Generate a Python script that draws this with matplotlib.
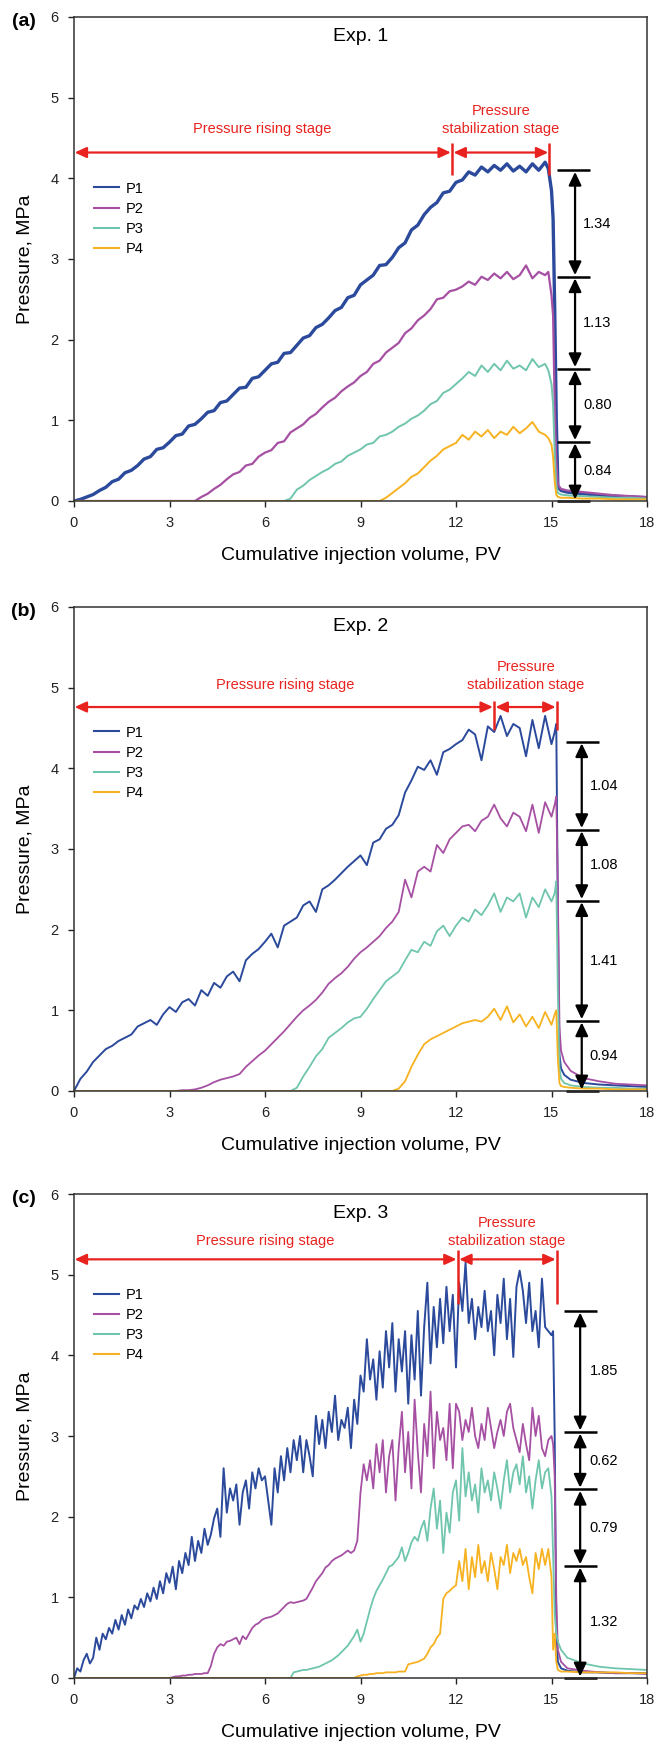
import matplotlib
matplotlib.use('Agg')
import matplotlib.pyplot as plt

plt.rcParams['font.family'] = ['Liberation Sans', 'DejaVu Sans']

BLUE = '#2b4a9c'
MAGENTA = '#a650a3'
TEAL = '#6fc5ad'
ORANGE = '#f6b220'
RED = '#e8231f'

names = ['P1', 'P2', 'P3', 'P4']
colors = [BLUE, MAGENTA, TEAL, ORANGE]

# ---- Exp. 1 : values read every 0.2 PV, then the drop and the tail
a_x = [i / 5 for i in range(75)] + [14.9, 15.0, 15.05, 15.1, 15.15, 15.2, 15.3,
                                     15.5, 16.0, 16.5, 17.0, 17.5, 18.0]
a_p1 = [0.00, 0.02, 0.05, 0.08, 0.13, 0.17, 0.24, 0.27, 0.35, 0.38,
        0.44, 0.52, 0.55, 0.64, 0.66, 0.73, 0.81, 0.83, 0.93, 0.95,
        1.02, 1.10, 1.12, 1.22, 1.24, 1.32, 1.40, 1.41, 1.52, 1.54,
        1.62, 1.70, 1.72, 1.83, 1.84, 1.93, 2.02, 2.05, 2.15, 2.19,
        2.27, 2.36, 2.40, 2.52, 2.55, 2.68, 2.74, 2.80, 2.92, 2.93,
        3.02, 3.14, 3.20, 3.36, 3.42, 3.55, 3.64, 3.70, 3.82, 3.84,
        3.95, 3.98, 4.08, 4.04, 4.14, 4.08, 4.16, 4.10, 4.18, 4.09,
        4.15, 4.08, 4.18, 4.10, 4.20,
        4.12, 3.85, 3.50, 2.40, 1.00, 0.18, 0.13, 0.11, 0.09, 0.07, 0.06, 0.05, 0.04]
a_p2 = [0.0] * 20 + [
        0.05, 0.09, 0.15, 0.20, 0.27, 0.33, 0.36, 0.44, 0.46, 0.55,
        0.60, 0.63, 0.72, 0.74, 0.85, 0.90, 0.95, 1.03, 1.08, 1.16,
        1.23, 1.28, 1.36, 1.42, 1.47, 1.55, 1.60, 1.70, 1.74, 1.84,
        1.90, 1.96, 2.08, 2.14, 2.24, 2.30, 2.38, 2.50, 2.52, 2.60,
        2.62, 2.66, 2.72, 2.68, 2.78, 2.74, 2.82, 2.76, 2.84, 2.75,
        2.80, 2.92, 2.76, 2.84, 2.80,
        2.84, 2.55, 2.30, 1.20, 0.50, 0.20, 0.15, 0.13, 0.11, 0.09, 0.07, 0.06, 0.05]
a_p3 = [0.0] * 34 + [
        0.03, 0.14, 0.19, 0.26, 0.31, 0.36, 0.40, 0.46, 0.49, 0.56, 0.60,
        0.64, 0.70, 0.72, 0.80, 0.82, 0.86, 0.92, 0.96, 1.02, 1.06,
        1.12, 1.20, 1.24, 1.34, 1.38, 1.45, 1.52, 1.60, 1.55, 1.68,
        1.60, 1.70, 1.62, 1.74, 1.64, 1.68, 1.62, 1.76, 1.66, 1.70,
        1.62, 1.45, 1.20, 0.60, 0.20, 0.10, 0.08, 0.07, 0.06, 0.05, 0.04, 0.04, 0.03]
a_p4 = [0.0] * 49 + [
        0.04, 0.10, 0.16, 0.22, 0.30, 0.34, 0.42, 0.50, 0.56, 0.64, 0.68,
        0.72, 0.82, 0.76, 0.86, 0.80, 0.88, 0.78, 0.86, 0.82, 0.92,
        0.84, 0.90, 0.98, 0.86, 0.82,
        0.78, 0.70, 0.55, 0.25, 0.08, 0.05, 0.04, 0.04, 0.03, 0.03, 0.02, 0.02, 0.02]

# ---- Exp. 2
b_x = [i / 5 for i in range(76)] + [15.1, 15.15, 15.2, 15.25, 15.3, 15.4, 15.6,
                                     16.0, 16.5, 17.0, 17.5, 18.0]
b_p1 = [0.00, 0.15, 0.24, 0.36, 0.44, 0.52, 0.56, 0.62, 0.66, 0.70,
        0.80, 0.84, 0.88, 0.82, 0.95, 1.04, 0.98, 1.10, 1.14, 1.06,
        1.25, 1.18, 1.34, 1.28, 1.42, 1.48, 1.36, 1.62, 1.70, 1.76,
        1.85, 1.95, 1.78, 2.05, 2.10, 2.15, 2.30, 2.35, 2.22, 2.50,
        2.55, 2.62, 2.70, 2.78, 2.85, 2.92, 2.80, 3.08, 3.12, 3.25,
        3.30, 3.42, 3.70, 3.85, 4.02, 3.98, 4.10, 3.92, 4.20, 4.24,
        4.30, 4.35, 4.48, 4.42, 4.10, 4.52, 4.45, 4.65, 4.40, 4.55,
        4.50, 4.15, 4.60, 4.25, 4.65, 4.30,
        4.45, 4.55, 2.20, 0.45, 0.28, 0.20, 0.14, 0.10, 0.08, 0.07, 0.06, 0.05]
b_p2 = [0.0] * 16 + [
        0.00, 0.01, 0.01, 0.02, 0.04, 0.07, 0.11, 0.14, 0.16,
        0.18, 0.21, 0.30, 0.37, 0.44, 0.50, 0.58, 0.66, 0.74, 0.83,
        0.92, 1.00, 1.06, 1.13, 1.22, 1.33, 1.40, 1.46, 1.54, 1.64,
        1.72, 1.78, 1.85, 1.92, 2.02, 2.10, 2.22, 2.62, 2.40, 2.72,
        2.78, 2.72, 3.05, 2.95, 3.12, 3.20, 3.28, 3.30, 3.22, 3.35,
        3.40, 3.55, 3.38, 3.28, 3.45, 3.40, 3.22, 3.55, 3.20, 3.58, 3.40,
        3.55, 3.65, 2.50, 0.80, 0.50, 0.36, 0.25, 0.16, 0.12, 0.09, 0.08, 0.07]
b_p3 = [0.0] * 35 + [
        0.04, 0.18, 0.30, 0.43, 0.52, 0.66, 0.72, 0.78, 0.85, 0.90,
        0.92, 1.02, 1.14, 1.25, 1.36, 1.42, 1.48, 1.62, 1.75, 1.72,
        1.85, 1.80, 1.98, 2.05, 1.92, 2.05, 2.15, 2.10, 2.25, 2.18,
        2.30, 2.45, 2.22, 2.40, 2.35, 2.45, 2.15, 2.40, 2.28, 2.50, 2.35,
        2.45, 2.60, 1.20, 0.30, 0.15, 0.10, 0.07, 0.05, 0.04, 0.04, 0.03, 0.03]
b_p4 = [0.0] * 51 + [
        0.03, 0.12, 0.30, 0.45, 0.58, 0.64, 0.68, 0.72, 0.76,
        0.80, 0.84, 0.86, 0.88, 0.86, 0.92, 1.02, 0.88, 1.05, 0.85,
        0.95, 0.80, 0.92, 0.78, 0.98, 0.82,
        0.95, 1.00, 0.40, 0.10, 0.06, 0.05, 0.04, 0.03, 0.03, 0.02, 0.02, 0.02]

# ---- Exp. 3 : values read every 0.1 PV
c_x = [i / 10 for i in range(151)] + [15.05, 15.1, 15.15, 15.2, 15.3, 15.5,
                                       16.0, 16.5, 17.0, 17.5, 18.0]
c_p1 = [0.00, 0.12, 0.08, 0.22, 0.30, 0.18, 0.25, 0.50, 0.35, 0.55,
        0.48, 0.62, 0.55, 0.72, 0.60, 0.78, 0.66, 0.85, 0.74, 0.90,
        0.85, 0.98, 0.88, 1.05, 0.95, 1.12, 0.98, 1.20, 1.05, 1.30,
        1.18, 1.38, 1.10, 1.45, 1.30, 1.55, 1.40, 1.75, 1.45, 1.70,
        1.55, 1.85, 1.65, 1.78, 1.98, 2.10, 1.75, 2.60, 2.05, 2.35,
        2.20, 2.40, 1.90, 2.30, 2.45, 2.10, 2.55, 2.35, 2.60, 2.45,
        2.50, 2.20, 1.90, 2.60, 2.30, 2.75, 2.45, 2.85, 2.55, 2.95,
        2.70, 3.00, 2.55, 2.95, 2.75, 2.50, 3.25, 2.90, 3.20, 2.85,
        3.30, 3.05, 3.50, 2.95, 3.20, 3.10, 3.35, 2.85, 3.45, 3.15,
        3.75, 3.55, 4.20, 3.70, 3.95, 3.45, 4.05, 3.60, 4.30, 3.85,
        4.40, 3.55, 4.20, 3.80, 4.30, 3.40, 4.25, 3.70, 4.55, 3.50,
        4.35, 4.90, 3.90, 4.60, 4.10, 4.70, 4.15, 4.85, 4.30, 4.75,
        3.85, 4.90, 4.55, 5.15, 4.40, 4.70, 4.20, 4.60, 4.35, 4.80,
        4.30, 4.55, 4.00, 4.75, 4.40, 4.95, 4.20, 4.70, 3.98, 4.85,
        5.05, 4.80, 4.40, 4.90, 4.30, 4.55, 4.10, 4.95, 4.35, 4.30,
        4.25,
        4.30, 3.00, 0.60, 0.20, 0.12, 0.09, 0.07, 0.07, 0.06, 0.06, 0.06]
c_p2 = [0.0] * 31 + [
        0.01, 0.02, 0.02, 0.03, 0.03, 0.04, 0.04, 0.05, 0.05,
        0.05, 0.06, 0.06, 0.15, 0.30, 0.38, 0.42, 0.40, 0.45, 0.46,
        0.48, 0.50, 0.42, 0.52, 0.48, 0.55, 0.62, 0.66, 0.68, 0.72,
        0.74, 0.75, 0.76, 0.78, 0.80, 0.84, 0.88, 0.92, 0.94, 0.93,
        0.94, 0.95, 0.96, 0.98, 1.05, 1.12, 1.20, 1.25, 1.30, 1.37,
        1.40, 1.45, 1.48, 1.50, 1.52, 1.55, 1.58, 1.55, 1.58, 1.70,
        2.30, 2.65, 2.45, 2.70, 2.35, 2.90, 2.55, 2.95, 2.30, 2.75,
        2.95, 2.20, 2.85, 3.30, 2.55, 3.05, 2.35, 3.45, 2.80, 2.30,
        3.15, 2.75, 3.55, 2.60, 3.30, 2.95, 3.10, 2.70, 3.40, 2.60,
        3.40, 3.30, 2.95, 3.20, 3.05, 3.35, 3.00, 2.85, 3.15, 2.95,
        3.35, 3.10, 2.85, 3.05, 3.20, 3.00, 3.30, 3.40, 3.10, 2.95,
        2.80, 3.15, 2.90, 2.70, 3.35, 3.00, 3.25, 2.85, 2.75, 2.95,
        3.00,
        2.90, 2.50, 1.00, 0.35, 0.20, 0.12, 0.09, 0.07, 0.06, 0.06, 0.05]
c_p3 = [0.0] * 69 + [
        0.07,
        0.08, 0.09, 0.10, 0.10, 0.11, 0.12, 0.13, 0.14, 0.16, 0.18,
        0.20, 0.22, 0.25, 0.28, 0.32, 0.36, 0.40, 0.46, 0.52, 0.60,
        0.45, 0.55, 0.70, 0.85, 0.98, 1.08, 1.15, 1.22, 1.30, 1.38,
        1.40, 1.45, 1.50, 1.62, 1.45, 1.55, 1.68, 1.75, 1.70, 1.85,
        1.95, 1.70, 2.10, 2.35, 1.85, 2.20, 1.55, 2.05, 1.80, 2.30,
        2.45, 1.95, 2.85, 2.25, 2.55, 2.20, 2.40, 2.05, 2.60, 2.30,
        2.45, 2.20, 2.55, 2.35, 2.10, 2.45, 2.70, 2.30, 2.55, 2.65,
        2.40, 2.75, 2.30, 2.50, 2.10, 2.45, 2.70, 2.35, 2.55, 2.60,
        2.25,
        1.50, 0.80, 0.55, 0.45, 0.35, 0.25, 0.18, 0.14, 0.12, 0.11, 0.10]
c_p4 = [0.0] * 89 + [
        0.02,
        0.03, 0.04, 0.04, 0.05, 0.05, 0.06, 0.06, 0.06, 0.07, 0.07,
        0.07, 0.07, 0.08, 0.08, 0.08, 0.17, 0.18, 0.19, 0.20, 0.22,
        0.24, 0.30, 0.38, 0.42, 0.50, 0.55, 0.98, 1.05, 1.08, 1.12,
        1.15, 1.45, 1.20, 1.60, 1.10, 1.50, 1.25, 1.65, 1.30, 1.45,
        1.20, 1.55, 1.35, 1.10, 1.50, 1.40, 1.65, 1.30, 1.55, 1.45,
        1.60, 1.40, 1.50, 1.25, 1.05, 1.55, 1.35, 1.60, 1.40, 1.60,
        1.25,
        0.35, 0.55, 0.20, 0.10, 0.08, 0.08, 0.07, 0.07, 0.07, 0.06, 0.06]

# stage markers and pressure-difference annotations
a_stage = [11.87, 14.93]
b_stage = [13.19, 15.16]
c_stage = [12.05, 15.16]
a_levels = [4.10, 2.78, 1.64, 0.735, 0.0]
b_levels = [4.33, 3.24, 2.36, 0.87, 0.0]
c_levels = [4.55, 3.05, 2.34, 1.39, 0.0]
a_diffs = ['1.34', '1.13', '0.80', '0.84']
b_diffs = ['1.04', '1.08', '1.41', '0.94']
c_diffs = ['1.85', '0.62', '0.79', '1.32']

panels = [
    dict(tag='(a)', title='Exp. 1', x=a_x, ys=[a_p1, a_p2, a_p3, a_p4], lw=[2.4, 1.6, 1.4, 1.4],
         stage=a_stage, arrow_y=4.32, vline=(4.04, 4.44), rise=(5.9, 4.61), stab=(13.41, 4.83, 4.61),
         levels=a_levels, diffs=a_diffs, seg=(15.16, 16.21), ax_x=15.74, tx=16.44, leg=0.66,
         rect=[74, 17, 647, 501]),
    dict(tag='(b)', title='Exp. 2', x=b_x, ys=[b_p1, b_p2, b_p3, b_p4], lw=[1.4, 1.3, 1.3, 1.3],
         stage=b_stage, arrow_y=4.76, vline=(4.47, 4.83), rise=(6.63, 5.03), stab=(14.2, 5.26, 5.03),
         levels=b_levels, diffs=b_diffs, seg=(15.45, 16.5), ax_x=15.95, tx=16.65, leg=0.755,
         rect=[74, 607, 647, 1091]),
    dict(tag='(c)', title='Exp. 3', x=c_x, ys=[c_p1, c_p2, c_p3, c_p4], lw=[1.4, 1.3, 1.3, 1.3],
         stage=c_stage, arrow_y=5.19, vline=(4.64, 5.31), rise=(6.0, 5.42), stab=(13.6, 5.64, 5.42),
         levels=c_levels, diffs=c_diffs, seg=(15.40, 16.42), ax_x=15.90, tx=16.65, leg=0.806,
         rect=[74, 1194, 647, 1678]),
]

W, H = 657, 1745
fig = plt.figure(figsize=(W / 100, H / 100), dpi=100)

for p in panels:
    l, t, r, b = p['rect']
    ax = fig.add_axes([l / W, 1 - b / H, (r - l) / W, (b - t) / H])

    handles = []
    for y, c, n, lw in zip(p['ys'], colors, names, p['lw']):
        h, = ax.plot(p['x'], y, color=c, lw=lw, label=n)
        handles.append(h)

    ax.set_xlim(0, 18)
    ax.set_ylim(0, 6)
    ax.set_xticks([0, 3, 6, 9, 12, 15, 18])
    ax.set_yticks([0, 1, 2, 3, 4, 5, 6])
    ax.tick_params(direction='out', length=4, width=1, labelsize=10.5, pad=7, colors='#222222')
    for s in ax.spines.values():
        s.set_linewidth(1.1)
        s.set_color('#333333')
    ax.set_xlabel('Cumulative injection volume, PV', fontsize=14, labelpad=12)
    ax.set_ylabel('Pressure, MPa', fontsize=14, labelpad=12)

    leg = ax.legend(handles=handles, loc='upper left', bbox_to_anchor=(0.035, p['leg']),
                    frameon=False, fontsize=10.5, handlelength=1.7, handletextpad=0.5,
                    labelspacing=0.42, borderpad=0, borderaxespad=0)
    for lh in leg.get_lines():
        lh.set_linewidth(1.5)

    ax.text(-0.067, 0.99, p['tag'], transform=ax.transAxes, fontsize=14, fontweight='bold',
            ha='right', va='center')
    ax.text(9.0, 5.76, p['title'], fontsize=14, ha='center', va='center')

    # stage arrows
    s1, s2 = p['stage']
    ay = p['arrow_y']
    red_arrow = dict(arrowstyle='<|-|>,head_length=0.7,head_width=0.32', color=RED, lw=1.6,
                     mutation_scale=10, shrinkA=0, shrinkB=0)
    ax.annotate('', xy=(0.02, ay), xytext=(s1 - 0.03, ay), arrowprops=red_arrow)
    ax.annotate('', xy=(s1 + 0.05, ay), xytext=(s2 - 0.03, ay), arrowprops=red_arrow)
    for sx in p['stage']:
        ax.plot([sx, sx], p['vline'], color=RED, lw=1.8, solid_capstyle='butt')
    ax.text(p['rise'][0], p['rise'][1], 'Pressure rising stage', color=RED, fontsize=10.5,
            ha='center', va='center')
    ax.text(p['stab'][0], p['stab'][1], 'Pressure', color=RED, fontsize=10.5, ha='center', va='center')
    ax.text(p['stab'][0], p['stab'][2], 'stabilization stage', color=RED, fontsize=10.5,
            ha='center', va='center')

    # pressure differences
    x0, x1 = p['seg']
    blk = dict(arrowstyle='<|-|>,head_length=0.8,head_width=0.38', color='black', lw=1.6,
               mutation_scale=10, shrinkA=0, shrinkB=0)
    lv = p['levels']
    for yv in lv:
        ax.plot([x0, x1], [yv, yv], color='black', lw=1.8, clip_on=False, solid_capstyle='butt')
    for i, d in enumerate(p['diffs']):
        ax.annotate('', xy=(p['ax_x'], lv[i] - 0.02), xytext=(p['ax_x'], lv[i + 1] + 0.02),
                    arrowprops=blk)
        ax.text(p['tx'], (lv[i] + lv[i + 1]) / 2, d, fontsize=10.5, ha='center', va='center')

fig.savefig('out.png', dpi=100)
